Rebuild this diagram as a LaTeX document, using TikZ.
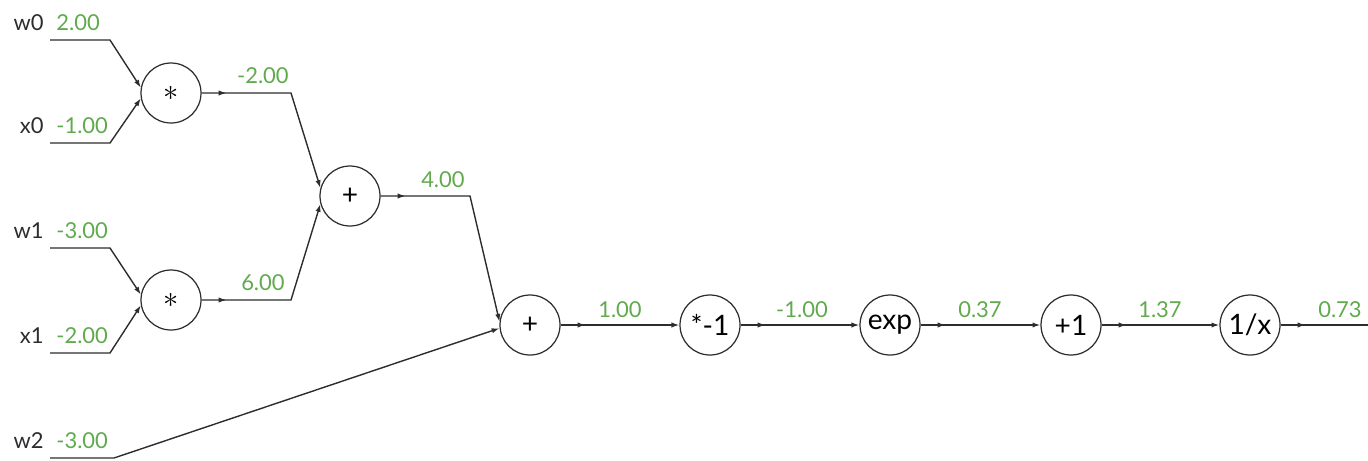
\documentclass[tikz,border=0pt]{standalone}
\usepackage{fontspec}
\setmainfont{Lato}
\usepackage{tikz}
\usetikzlibrary{arrows.meta, calc, decorations.markings, positioning}
\definecolor{valgreen}{RGB}{96, 170, 78}
\definecolor{wiregray}{RGB}{45, 45, 45}

\tikzset{
	gate/.style={circle, draw=wiregray, line width=0.7pt, minimum size=1.2cm, inner sep=0pt, font=\fontsize{16}{16}\selectfont},
	midarrow/.style={draw=wiregray, line width=0.8pt, postaction={decorate, decoration={markings, mark=at position 0.5cm with {\arrow{Latex[length=4.5pt,width=3pt]}}}}},
	wire/.style={draw=wiregray, line width=0.8pt, -{Latex[length=4.5pt,width=3pt]}},
	outwire/.style={wire, midarrow},
	val/.style={text=valgreen, font=\fontsize{12.5}{12.5}\selectfont, inner sep=0pt},
	inname/.style={text=wiregray, font=\fontsize{12.5}{12.5}\selectfont, inner sep=0pt}
}

\begin{document}
\begin{tikzpicture}[x=0.02cm, y=-0.02cm]
	\useasboundingbox (0,0) rectangle (1368,460);

	% gates
	\node[gate] (mul0) at (171,93) {$\ast$};
	\node[gate] (mul1) at (171,300) {$\ast$};
	\node[gate] (add0) at (350,196) {+};
	\node[gate] (add1) at (530,325) {+};
	\node[gate] (neg) at (710,325) {*-1};
	\node[gate] (expn) at (890,325) {exp};
	\node[gate] (inc) at (1071,325) {+1};
	\node[gate] (inv) at (1250,325) {1/x};

	% inputs
	\coordinate (w0) at (50,40);   \coordinate (w0c) at (110,40);
	\coordinate (x0) at (50,143);  \coordinate (x0c) at (110,143);
	\coordinate (w1) at (50,248);  \coordinate (w1c) at (110,248);
	\coordinate (x1) at (50,353);  \coordinate (x1c) at (110,353);
	\coordinate (w2) at (50,458);  \coordinate (w2c) at (114,458);

	\draw[wire] (w0) -- (w0c) -- (mul0.170);
	\draw[wire] (x0) -- (x0c) -- (mul0.190);
	\draw[wire] (w1) -- (w1c) -- (mul1.170);
	\draw[wire] (x1) -- (x1c) -- (mul1.190);
	\draw[wire] (w2) -- (w2c) -- (add1.186);

	\node[inname, anchor=base east] (nw0) at (44,30) {w0};
	\node[val, anchor=base west] (vw0) at (56,30) {2.00};
	\node[inname, anchor=base east] (nx0) at (44,133) {x0};
	\node[val, anchor=base west] (vx0) at (56,133) {-1.00};
	\node[inname, anchor=base east] (nw1) at (44,238) {w1};
	\node[val, anchor=base west] (vw1) at (56,238) {-3.00};
	\node[inname, anchor=base east] (nx1) at (44,343) {x1};
	\node[val, anchor=base west] (vx1) at (56,343) {-2.00};
	\node[inname, anchor=base east] (nw2) at (44,448) {w2};
	\node[val, anchor=base west] (vw2) at (56,448) {-3.00};

	% inner wires
	\coordinate (m0c) at (291,93);
	\coordinate (m1c) at (291,300);
	\coordinate (a0c) at (470,196);
	\draw[outwire] (mul0.east) -- (m0c) -- (add0.165);
	\draw[outwire] (mul1.east) -- (m1c) -- (add0.195);
	\draw[outwire] (add0.east) -- (a0c) -- (add1.174);
	\node[val, anchor=base east] (vm0) at (289,83) {-2.00};
	\node[val, anchor=base east] (vm1) at (285,290) {6.00};
	\node[val, anchor=base east] (va0) at (465,187) {4.00};

	% chain
	\coordinate (out) at (1368,325);
	\draw[outwire] (add1) -- (neg);
	\draw[outwire] (neg) -- (expn);
	\draw[outwire] (expn) -- (inc);
	\draw[outwire] (inc) -- (inv);
	\draw[midarrow] (inv) -- (out);

	\node[val, anchor=base] (va1) at (620,317) {1.00};
	\node[val, anchor=base] (vneg) at (802,317) {-1.00};
	\node[val, anchor=base] (vexp) at (980,317) {0.37};
	\node[val, anchor=base] (vinc) at (1160,317) {1.37};
	\node[val, anchor=base] (vinv) at (1340,317) {0.73};
\end{tikzpicture}
\end{document}
